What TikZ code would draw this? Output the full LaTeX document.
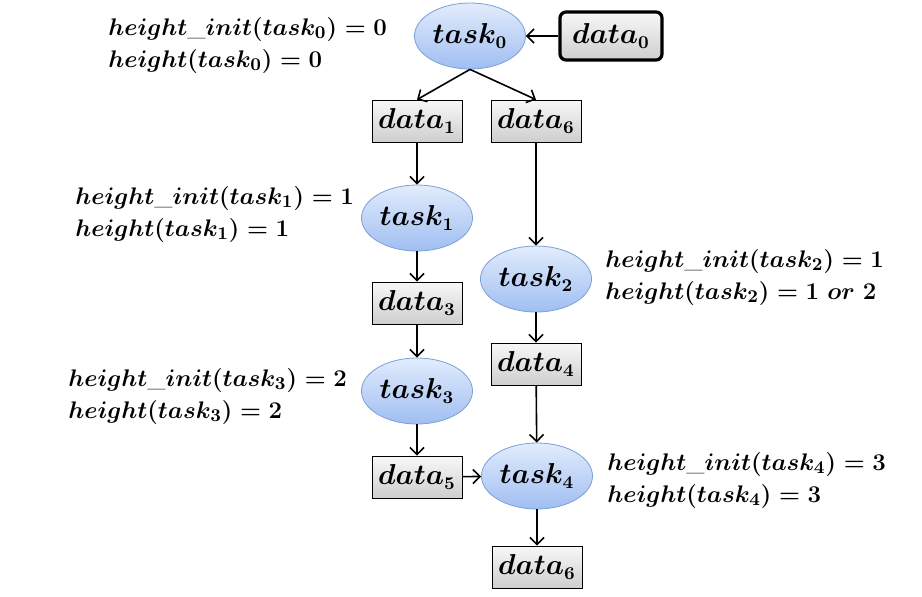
\documentclass[tikz,border=0pt]{standalone}
\usepackage{bm}
\usetikzlibrary{shapes.geometric,arrows.meta}
\definecolor{tasktop}{RGB}{226,236,252}
\definecolor{taskbot}{RGB}{160,190,242}
\definecolor{taskline}{RGB}{125,160,215}

\begin{document}
\begin{tikzpicture}[x=0.5pt,y=-0.5pt,>={Straight Barb[length=3.5pt,width=7pt]}]
				\tikzstyle{every node}=[font=\fontsize{13.5}{16}\selectfont\boldmath]
				\tikzstyle{task}=[ellipse,draw=taskline,top color=tasktop,bottom color=taskbot,
				minimum width=45pt,minimum height=33pt,inner sep=1pt]
				\tikzstyle{data}=[rectangle,draw=black,top color=gray!6,bottom color=gray!38,
				minimum width=45pt,minimum height=21pt,inner sep=1pt]
				\tikzstyle{datastart}=[data,line width=1.6pt,rounded corners=3pt,minimum width=51pt,minimum height=24pt]
				\tikzstyle{info}=[anchor=west,align=left,inner sep=0pt,font=\fontsize{12.4}{14}\selectfont\boldmath]
				\useasboundingbox (0,0) rectangle (922,596);
				% tasks and data
				\node[task] (t0) at (470,36) {$task_0$};
				\node[datastart] (d0) at (611,36) {$data_0$};
				\node[data] (d1) at (417,121) {$data_1$};
				\node[data] (d6a) at (536,121) {$data_6$};
				\node[task] (t1) at (417,218) {$task_1$};
				\node[task] (t2) at (536,279) {$task_2$};
				\node[data] (d3) at (417,303) {$data_3$};
				\node[data] (d4) at (536,364) {$data_4$};
				\node[task] (t3) at (417,391) {$task_3$};
				\node[data] (d5) at (417,477) {$data_5$};
				\node[task] (t4) at (537,476) {$task_4$};
				\node[data] (d6b) at (537,567) {$data_6$};
				% heights
				\node[info] (h0) at (108,45) {$height\_init(task_0) = 0$\\[2pt]$height(task_0) = 0$};
				\node[info] (h1) at (75,214) {$height\_init(task_1) = 1$\\[2pt]$height(task_1) = 1$};
				\node[info] (h2) at (605,277) {$height\_init(task_2) = 1$\\[2pt]$height(task_2) = 1~or~2$};
				\node[info] (h3) at (68,396) {$height\_init(task_3) = 2$\\[2pt]$height(task_3) = 2$};
				\node[info] (h4) at (607,480) {$height\_init(task_4) = 3$\\[2pt]$height(task_4) = 3$};
				% edges
				\draw[->,thick] (d0) -- (t0);
				\draw[->,thick] (t0.south) -- (d1.north);
				\draw[->,thick] (t0.south) -- (d6a.north);
				\draw[->,thick] (d1) -- (t1);
				\draw[->,thick] (t1) -- (d3);
				\draw[->,thick] (d3) -- (t3);
				\draw[->,thick] (t3) -- (d5);
				\draw[->,thick] (d5) -- (t4);
				\draw[->,thick] (d6a) -- (t2);
				\draw[->,thick] (t2) -- (d4);
				\draw[->,thick] (d4) -- (t4);
				\draw[->,thick] (t4) -- (d6b);
\end{tikzpicture}
\end{document}
